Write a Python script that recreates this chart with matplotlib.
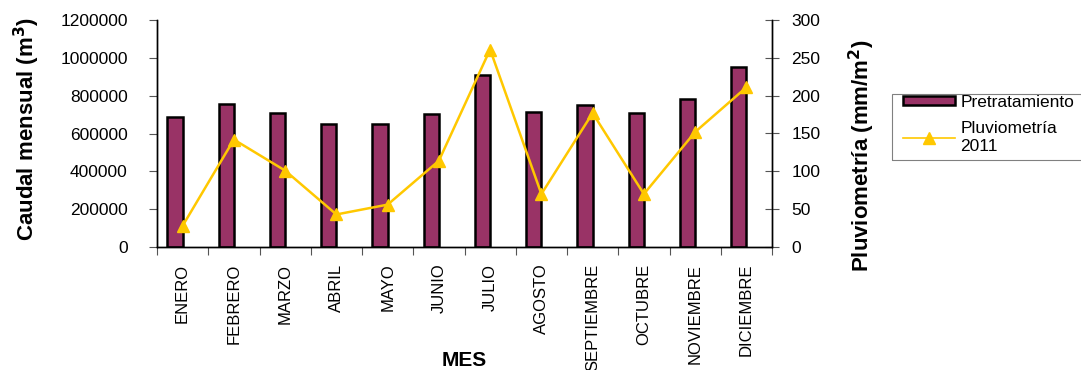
import matplotlib
matplotlib.use("Agg")
import matplotlib.pyplot as plt
from matplotlib.patches import Rectangle
from matplotlib.lines import Line2D
import numpy as np

plt.rcParams['font.family'] = ['Liberation Sans', 'DejaVu Sans']

meses = ["ENERO", "FEBRERO", "MARZO", "ABRIL", "MAYO", "JUNIO", "JULIO",
         "AGOSTO", "SEPTIEMBRE", "OCTUBRE", "NOVIEMBRE", "DICIEMBRE"]
pretratamiento = [687000, 754000, 707000, 648000, 650000, 705000, 907000,
                  712000, 751000, 710000, 781000, 953000]
pluviometria_2011 = [28, 142, 101, 43, 56, 114, 261, 70, 177, 70, 152, 211]

caudal_ticks = [0, 200000, 400000, 600000, 800000, 1000000, 1200000]
pluvio_ticks = [0, 50, 100, 150, 200, 250, 300]

W, H = 1081, 370
fig = plt.figure(figsize=(W / 100, H / 100), dpi=100)
ax = fig.add_axes([157 / W, 1 - 247 / H, (772 - 157) / W, (247 - 20) / H])
ax2 = ax.twinx()

x = np.arange(len(meses))
bars = ax.bar(x - 0.15, pretratamiento, width=0.3, color="#993366",
              edgecolor="black", linewidth=1.8, label="Pretratamiento", zorder=2)
line, = ax2.plot(x, pluviometria_2011, color="#FFC800", linewidth=1.8,
                 marker="^", markersize=9, label="Pluviometría\n2011", zorder=3)

ax.set_xlim(-0.5, len(meses) - 0.5)
ax.set_ylim(0, 1200000)
ax2.set_ylim(0, 300)
ax.set_yticks(caudal_ticks)
ax.set_yticklabels([str(v) for v in caudal_ticks], fontsize=12.5)
ax2.set_yticks(pluvio_ticks)
ax2.set_yticklabels([str(v) for v in pluvio_ticks], fontsize=12.5)

ax.set_xticks(x)
ax.set_xticklabels(meses, rotation=90, fontsize=12, va="top")
ax.tick_params(axis="x", length=0, pad=12)
ax.set_xticks(np.arange(-0.5, len(meses)), minor=True)
ax.tick_params(axis="x", which="minor", length=6, width=0.8, color="#555555")
ax.tick_params(axis="y", length=6, width=0.8, color="#555555", pad=15)
ax2.tick_params(axis="y", direction="inout", length=10, width=0.8, color="#555555", pad=9)

for a in (ax, ax2):
    a.spines["top"].set_visible(False)
    for s in ("left", "right", "bottom"):
        a.spines[s].set_linewidth(1.0)
        a.spines[s].set_color("black")
ax.set_zorder(ax2.get_zorder() - 1)
ax.patch.set_visible(False)

ax.set_ylabel("Caudal mensual (m$^\\mathbf{3}$)", fontsize=16, fontweight="bold")
ax.yaxis.set_label_coords(-0.187, 0.52)
ax2.set_ylabel("Pluviometría (mm/m$^\\mathbf{2}$)", fontsize=16, fontweight="bold")
ax2.yaxis.set_label_coords(1.122, 0.40)
ax.set_xlabel("MES", fontsize=15, fontweight="bold")
ax.xaxis.set_label_coords(0.5, -0.46)

# Legend frame runs past the right edge of the figure
fig.patches.append(Rectangle((892 / W, 1 - 160 / H), 200 / W, 66 / H,
                             transform=fig.transFigure, fill=False,
                             edgecolor="#808080", linewidth=0.8))
line_handle = Line2D([], [], color="#FFC800", linewidth=1.2, marker="^",
                     markersize=8)
leg = fig.legend([bars, line_handle], ["Pretratamiento", "Pluviometría\n2011"],
                 loc="upper left", bbox_to_anchor=(903 / W, 1 - 95 / H),
                 fontsize=12.5, frameon=False, handlelength=3.0,
                 handleheight=0.45, borderpad=0.0, labelspacing=0.65,
                 handletextpad=0.3, borderaxespad=0)

fig.savefig("out.png", dpi=100)
